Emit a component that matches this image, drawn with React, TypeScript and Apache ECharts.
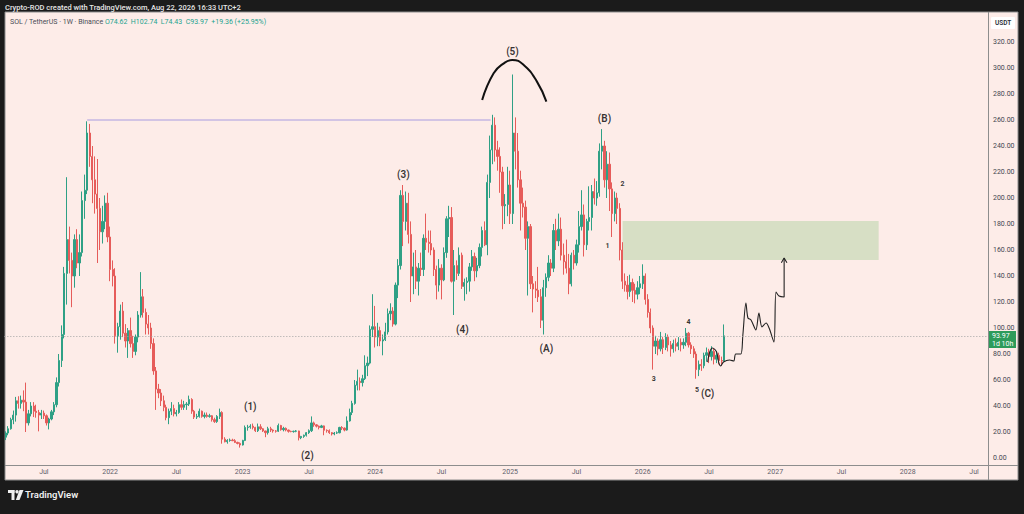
import React, { useEffect, useRef } from "react";
import * as echarts from "echarts";

// ---------- data ----------
const START_DATE = "2021-03-22"; // first weekly bar (Monday)
const WEEK_COUNT = 386; // weekly slots across the time axis

// [open, close, low, high] per week
const candles2021: number[][] = [
  [16, 19.2, 13.8, 20.5], [19.2, 22.5, 17.5, 24.5], [22.5, 29.5, 21.8, 31], [29.5, 33, 26, 36.5],
  [33, 44, 28, 47], [44, 42, 38, 47.5], [42, 44.5, 38, 48], [44.5, 43, 36, 52],
  [43, 27, 20, 58], [27, 34, 25, 37], [34, 40, 32, 43], [40, 36, 31.5, 43],
  [36, 35, 31, 41], [35, 33, 20.5, 37], [33, 34.5, 30, 37], [34.5, 32.5, 30, 36.5],
  [32.5, 27, 25, 33.5], [27, 30, 22, 31], [30, 35.5, 29, 37], [35.5, 41, 33, 43],
  [41, 58, 39, 62], [58, 75, 55, 80], [75, 95, 70, 102], [95, 142, 92, 147],
  [142, 168, 118, 216], [168, 152, 142, 178], [152, 140, 116, 158], [140, 168, 131, 172],
  [168, 150, 146, 176], [150, 158, 140, 172], [158, 198, 155, 205], [198, 206, 184, 218],
  [206, 250, 203, 259], [250, 232, 224, 257], [232, 214, 196, 240], [214, 203, 188, 232],
  [203, 192, 150, 230], [192, 174, 160, 200], [174, 182, 165, 194], [182, 196, 176, 202],
  [196, 170, 166, 204],
];
const candles2022: number[][] = [
  [170, 145, 136, 178], [145, 140, 132, 152], [140, 94, 88, 146], [94, 101, 81, 104],
  [101, 113, 91, 118], [113, 96, 93, 120], [96, 90, 85, 103], [90, 98, 77, 100],
  [98, 88, 85, 108], [88, 82, 77, 94], [82, 93, 79, 95], [93, 110, 89, 113],
  [110, 124, 108, 143], [124, 112, 108, 130], [112, 103, 95, 115], [103, 100, 95, 110],
  [100, 88, 84, 104], [88, 67, 64, 92], [67, 53, 37, 70], [53, 50, 46, 57],
  [50, 44, 40, 53], [44, 39, 36, 48], [39, 31, 29, 41], [31, 36, 26, 38],
  [36, 38, 33, 43], [38, 34, 32, 41], [34, 35, 32, 37], [35, 41, 34, 43],
  [41, 39, 37, 45], [39, 41, 37, 44], [41, 41.5, 37, 43], [41.5, 45, 40, 48],
  [45, 36, 34, 46], [36, 31.5, 30, 37], [31.5, 32, 30, 34], [32, 36, 31, 38],
  [36, 32, 31, 36.5], [32, 33, 30.5, 35], [33, 32, 31, 35], [32, 32.5, 31, 34],
  [32.5, 29.5, 28, 33], [29.5, 28, 27, 31], [28, 32, 27, 33], [32, 35, 30, 38],
  [35, 14.5, 11, 36], [14.5, 12.5, 12, 16], [12.5, 13.5, 11, 14.5], [13.5, 13.8, 12.5, 15],
  [13.8, 13.3, 13, 14.8], [13.3, 12, 11.5, 14.5], [12, 11.2, 10.5, 12.5], [11.2, 10, 8, 12],
];
const candles2023: number[][] = [
  [10, 13.5, 9.6, 14], [13.5, 23.5, 13, 25], [23.5, 23.8, 21, 25.5], [23.8, 24.5, 22.5, 26],
  [24.5, 23.5, 22, 26.5], [23.5, 21, 20, 24], [21, 24, 20, 26.5], [24, 22.5, 21.5, 26],
  [22.5, 20.8, 20, 23], [20.8, 19.5, 16, 21], [19.5, 22.5, 18, 24], [22.5, 21.5, 20, 24],
  [21.5, 20.8, 19.5, 22], [20.8, 20.6, 19.5, 21.5], [20.6, 25, 20, 26.5], [25, 21.8, 21, 25.5],
  [21.8, 22.8, 20.5, 24], [22.8, 21.5, 20.5, 23.5], [21.5, 20.5, 19.5, 21.8], [20.5, 20.3, 19.8, 21],
  [20.3, 20.6, 19.5, 21], [20.6, 20.8, 19.8, 21.5], [20.8, 15.6, 13.5, 21], [15.6, 16.6, 14.5, 17],
  [16.6, 17.5, 15.5, 18], [17.5, 19.5, 16.5, 20], [19.5, 21, 18.5, 22], [21, 27, 20, 32],
  [27, 25.5, 24, 28], [25.5, 24.5, 23.5, 26], [24.5, 23.5, 22, 25], [23.5, 24.7, 23, 25.5],
  [24.7, 21.3, 17.5, 25], [21.3, 21, 19.5, 22], [21, 19.5, 18.5, 22], [19.5, 18.5, 17.3, 20],
  [18.5, 19.2, 17.5, 20], [19.2, 19.4, 18.5, 20.5], [19.4, 23.5, 19, 24], [23.5, 23, 21.5, 24.5],
  [23, 21.5, 20.5, 23.5], [21.5, 28.5, 21, 32], [28.5, 35, 28, 38], [35, 42, 33, 44],
  [42, 56, 41, 60], [56, 59, 52, 68], [59, 58, 52, 62], [58, 61, 55, 64],
  [61, 71, 60, 79], [71, 73, 63, 78], [73, 99, 72, 102], [99, 101, 93, 126],
];
const candles2024: number[][] = [
  [101, 93, 85, 117], [93, 98, 86, 104], [98, 90, 86, 101], [90, 91, 79, 95],
  [91, 97, 90, 104], [97, 111, 95, 115], [111, 113, 106, 119], [113, 103, 101, 116],
  [103, 133, 102, 135], [133, 148, 123, 153], [148, 202, 145, 206], [202, 182, 163, 210],
  [182, 196, 175, 205], [196, 172, 165, 204], [172, 140, 120, 182], [140, 147, 126, 158],
  [147, 136, 130, 160], [136, 146, 125, 150], [146, 145, 140, 158], [145, 169, 140, 172],
  [169, 166, 160, 188], [166, 165, 158, 175], [165, 160, 156, 175], [160, 145, 140, 162],
  [145, 133, 122, 148], [133, 146, 128, 153], [146, 137, 122, 149], [137, 158, 136, 162],
  [158, 184, 154, 186], [184, 185, 170, 194], [185, 136, 135, 193], [136, 148, 110, 160],
  [148, 142, 137, 152], [142, 156, 140, 162], [156, 132, 130, 158], [132, 135, 121, 138],
  [135, 136, 126, 139], [136, 147, 128, 150], [147, 155, 144, 160], [155, 144, 136, 158],
  [144, 148, 139, 154], [148, 162, 146, 165], [162, 175, 155, 178], [175, 164, 163, 182],
  [164, 212, 156, 218], [212, 237, 200, 248], [237, 256, 226, 264], [256, 237, 228, 262],
  [237, 232, 221, 244], [232, 220, 204, 239], [220, 194, 176, 224], [194, 195, 180, 203],
  [195, 210, 186, 224],
];
const candles2025: number[][] = [
  [210, 188, 180, 221], [188, 250, 180, 295], [250, 236, 222, 262], [236, 214, 208, 250],
  [214, 196, 175, 221], [196, 193, 185, 208], [193, 169, 160, 198], [169, 178, 125, 182],
  [178, 134, 130, 180], [134, 130, 112, 140], [130, 129, 123, 136], [129, 124, 120, 147],
  [124, 106, 100, 130], [106, 131, 95, 137], [131, 139, 124, 142], [139, 150, 136, 156],
  [150, 146, 140, 153], [146, 175, 143, 180], [175, 167, 160, 184], [167, 176, 163, 188],
  [176, 156, 152, 185], [156, 151, 141, 165], [151, 146, 142, 168], [146, 134, 126, 157],
  [134, 156, 132, 158], [156, 150, 145, 160], [150, 164, 148, 168], [164, 178, 158, 190],
  [178, 187, 175, 206], [187, 164, 155, 195], [164, 182, 160, 184], [182, 185, 175, 209],
  [185, 205, 175, 210], [205, 200, 195, 215], [200, 204, 194, 213], [204, 236, 201, 242],
  [236, 240, 222, 253], [240, 214, 208, 244], [214, 226, 200, 236], [226, 207, 190, 235],
  [207, 188, 170, 212], [188, 200, 182, 205], [200, 192, 180, 204], [192, 160, 152, 196],
  [160, 136, 130, 166], [136, 133, 128, 142], [133, 128, 122, 140], [128, 135, 124, 141],
  [135, 129, 120, 138], [129, 126, 119, 134], [126, 131, 122, 136], [131, 134, 126, 140],
];
const candles2026: number[][] = [
  [134, 140, 130, 149], [140, 122, 118, 142], [122, 112, 108, 126], [112, 100, 96, 115],
  [100, 86, 68, 102], [86, 90, 80, 94], [90, 84, 79, 92], [84, 91, 82, 97],
  [91, 85, 80, 93], [85, 93, 83, 96], [93, 87, 82, 95], [87, 84, 78, 90],
  [84, 88, 81, 91], [88, 86, 82, 92], [86, 89, 83, 93], [89, 87, 82, 92],
  [87, 89, 84, 92], [89, 96, 86, 100], [96, 87, 85, 97], [87, 84, 80, 89],
  [84, 80, 77, 86], [80, 68, 61, 82], [68, 72, 63, 75], [72, 71, 67, 76],
  [71, 79, 69, 81], [79, 81, 74, 85], [81, 78, 73, 84], [78, 82, 75, 86],
  [82, 76, 72, 84], [76, 79, 73, 82], [79, 75, 72, 81], [75, 74.62, 71, 78],
  [74.62, 93.97, 74.43, 102.74],
];

const LAST_PRICE = 93.97;

// wave labels (x in week-slot units, y in USDT)
const waveLabels = ["(1)", "(2)", "(3)", "(4)", "(5)", "(A)", "(B)", "(C)"];
const waveX = [96, 118.4, 156.1, 179.2, 198.9, 212.2, 235, 275.5];
const waveY = [40, 1.8, 218, 99, 313, 84.6, 261.5, 50];
const subLabels = ["1", "2", "3", "4", "5"];
const subX = [236.2, 242.1, 254.3, 268, 271.3];
const subY = [163, 210.8, 60.5, 104.6, 52];

// resistance line at the 2021 high
const resX = [32, 190.3];
const resY = [260, 260];

// target zone
const zoneX = [242.1, 342.6];
const zoneY = [152.3, 182.3];

// arc drawn over the top
const arcX = [187, 191.5, 195.5, 198.8, 203.3, 208.5, 212.2];
const arcY = [275.4, 295.9, 303.6, 306.2, 302.3, 289.5, 274.1];

// hand-drawn projection path
const pathX = [275.5, 276.3, 277.4, 279.0, 279.8, 280.6, 281.7, 284.1, 285.7, 286.5, 288.5, 289.3, 290.5, 291.3, 292.5, 294.4, 295.6, 296.8, 298.4, 299.6, 301.5, 302.3, 303.5, 305.5, 305.5];
const pathY = [73.8, 81.5, 84.6, 81.5, 73.8, 70.8, 73.8, 75.4, 74.6, 80, 80, 94.6, 119.2, 107.7, 106.2, 98.5, 111.5, 100.8, 103.8, 100, 89.2, 127.7, 124.6, 123.8, 153.8];
const arrowX = [304.4, 305.5, 306.6];
const arrowY = [150.2, 153.8, 150.2];

// ---------- helpers ----------
const FONT = 'Roboto, "Noto Sans", "DejaVu Sans", sans-serif';
const UP = "#2fa085";
const DOWN = "#e65c5a";

function buildWeeks(): string[] {
  const [y, m, d] = START_DATE.split("-").map(Number);
  const t0 = Date.UTC(y, m - 1, d);
  const out: string[] = [];
  for (let i = 0; i < WEEK_COUNT; i++) {
    out.push(new Date(t0 + i * 7 * 86400000).toISOString().slice(0, 10));
  }
  return out;
}

export default function App() {
  const ref = useRef<HTMLDivElement>(null);

  useEffect(() => {
    if (!ref.current) return;
    const chart = echarts.init(ref.current, undefined, { renderer: "svg" });
    const weeks = buildWeeks();
    const candles = [
      ...candles2021, ...candles2022, ...candles2023,
      ...candles2024, ...candles2025, ...candles2026,
    ];
    const pairs = (xs: number[], ys: number[]) => xs.map((x, i) => [x, ys[i]]);

    const GRID_LEFT = 4.35;
    const GRID_RIGHT_X = 988;
    const GRID_TOP = 42;
    const GRID_H = 416;

    const labelBase = {
      show: true,
      position: "inside",
      color: "#000000",
      textBorderWidth: 0,
      textBorderColor: "transparent",
      textShadowBlur: 0,
      fontFamily: FONT,
    };

    const option: any = {
      animation: false,
      backgroundColor: "#1b1b1b",
      grid: { left: GRID_LEFT, top: GRID_TOP, width: GRID_RIGHT_X - GRID_LEFT, height: GRID_H, containLabel: false },
      xAxis: [
        {
          type: "category",
          data: weeks,
          boundaryGap: true,
          axisLine: { show: false },
          axisTick: { show: false },
          splitLine: { show: false },
          axisLabel: {
            interval: (idx: number, val: string) => {
              if (idx === 0) return false;
              const m = val.slice(5, 7);
              const pm = weeks[idx - 1].slice(5, 7);
              return m !== pm && (m === "01" || m === "07");
            },
            formatter: (val: string) => (val.slice(5, 7) === "01" ? val.slice(0, 4) : "Jul"),
            fontSize: 7,
            color: "#5d606b",
            margin: 10,
            fontFamily: FONT,
          },
        },
        { type: "value", min: -0.5, max: WEEK_COUNT - 0.5, show: false },
      ],
      yAxis: {
        type: "value",
        position: "right",
        min: 0,
        max: 320,
        interval: 20,
        splitLine: { show: false },
        axisLine: { show: false },
        axisTick: { show: false },
        axisLabel: {
          formatter: (v: number) => v.toFixed(2),
          fontSize: 7,
          color: "#434651",
          margin: 5,
          fontFamily: FONT,
        },
      },
      series: [
        {
          type: "line",
          xAxisIndex: 1,
          data: pairs(resX, resY),
          symbol: "none",
          silent: true,
          lineStyle: { color: "#a89ce0", width: 1 },
          markArea: {
            silent: true,
            itemStyle: { color: "#d7dfc5" },
            data: [[{ coord: [zoneX[0], zoneY[1]] }, { coord: [zoneX[1], zoneY[0]] }]],
          },
          z: 1,
        },
        {
          type: "candlestick",
          xAxisIndex: 0,
          data: candles,
          barWidth: "68%",
          itemStyle: {
            color: UP,
            color0: DOWN,
            borderColor: UP,
            borderColor0: DOWN,
            borderWidth: 1,
          },
          markLine: {
            silent: true,
            symbol: "none",
            label: { show: false },
            lineStyle: { color: "#a3a3a3", type: [1, 2], width: 1 },
            data: [{ yAxis: LAST_PRICE }],
          },
          z: 3,
        },
        {
          type: "line",
          xAxisIndex: 1,
          data: pairs(arcX, arcY),
          symbol: "none",
          smooth: true,
          silent: true,
          lineStyle: { color: "#111111", width: 2 },
          z: 4,
        },
        {
          type: "line",
          xAxisIndex: 1,
          data: pairs(pathX, pathY),
          symbol: "none",
          smooth: 0.3,
          silent: true,
          lineStyle: { color: "#222222", width: 1.1 },
          z: 4,
        },
        {
          type: "line",
          xAxisIndex: 1,
          data: pairs(arrowX, arrowY),
          symbol: "none",
          silent: true,
          lineStyle: { color: "#222222", width: 1.1 },
          z: 4,
        },
        {
          type: "scatter",
          xAxisIndex: 1,
          symbolSize: 1,
          silent: true,
          itemStyle: { color: "rgba(0,0,0,0)" },
          data: waveLabels.map((t, i) => ({ value: [waveX[i], waveY[i]], label: { formatter: t } })),
          label: { ...labelBase, fontSize: 10, fontWeight: 600 },
          z: 5,
        },
        {
          type: "scatter",
          xAxisIndex: 1,
          symbolSize: 1,
          silent: true,
          itemStyle: { color: "rgba(0,0,0,0)" },
          data: subLabels.map((t, i) => ({ value: [subX[i], subY[i]], label: { formatter: t } })),
          label: { ...labelBase, fontSize: 7, fontWeight: 700 },
          z: 5,
        },
      ],
      graphic: [
        { type: "rect", shape: { x: 5, y: 12, width: 1013, height: 468 }, style: { fill: "#fdece8", stroke: "#8d8d8d", lineWidth: 1 }, z: -10, silent: true },
        { type: "line", shape: { x1: 988.5, y1: 12, x2: 988.5, y2: 480 }, style: { stroke: "#8d8d8d", lineWidth: 1 }, silent: true },
        { type: "line", shape: { x1: 5, y1: 465.5, x2: 1018, y2: 465.5 }, style: { stroke: "#8d8d8d", lineWidth: 1 }, silent: true },
        {
          type: "text", x: 5, y: 3, silent: true,
          style: { text: "Crypto-ROD created with TradingView.com, Aug 22, 2026 16:33 UTC+2", fill: "#e6e6e6", font: `500 7.5px ${FONT}` },
        },
        {
          type: "text", x: 10, y: 18.5, silent: true,
          style: { text: "SOL / TetherUS · 1W · Binance", fill: "#4a4d57", font: `7px ${FONT}` },
        },
        {
          type: "text", x: 105, y: 18.5, silent: true,
          style: { text: "O74.62  H102.74  L74.43  C93.97  +19.36 (+25.95%)", fill: "#22a38f", font: `7px ${FONT}` },
        },
        { type: "rect", shape: { x: 991, y: 17, width: 24, height: 12, r: 1 }, style: { fill: "#ffffff" }, silent: true },
        { type: "text", x: 995, y: 19.5, silent: true, style: { text: "USDT", fill: "#2a2e39", font: `600 6.5px ${FONT}` } },
        { type: "rect", shape: { x: 989, y: 331, width: 27, height: 17 }, style: { fill: "#2d9b5a" }, silent: true },
        { type: "text", x: 992, y: 332, silent: true, style: { text: "93.97", fill: "#ffffff", font: `7px ${FONT}` } },
        { type: "text", x: 992, y: 340, silent: true, style: { text: "1d 10h", fill: "#ffffff", font: `7px ${FONT}` } },
        // TradingView logo
        { type: "rect", shape: { x: 8, y: 490, width: 6.5, height: 3 }, style: { fill: "#f0f0f0" }, silent: true },
        { type: "rect", shape: { x: 11.5, y: 490, width: 3, height: 10 }, style: { fill: "#f0f0f0" }, silent: true },
        { type: "circle", shape: { cx: 17, cy: 491.7, r: 1.7 }, style: { fill: "#f0f0f0" }, silent: true },
        { type: "polygon", shape: { points: [[19.5, 490], [23.5, 490], [19.5, 500], [15.8, 500]] }, style: { fill: "#f0f0f0" }, silent: true },
        { type: "text", x: 25, y: 489, silent: true, style: { text: "TradingView", fill: "#f0f0f0", font: `600 9.5px ${FONT}` } },
      ],
    };

    chart.setOption(option);
    return () => chart.dispose();
  }, []);

  return (
    <div style={{ position: "fixed", left: 0, top: 0, width: 1024, height: 514, margin: 0 }}>
      <div ref={ref} style={{ width: 1024, height: 514 }} />
    </div>
  );
}
